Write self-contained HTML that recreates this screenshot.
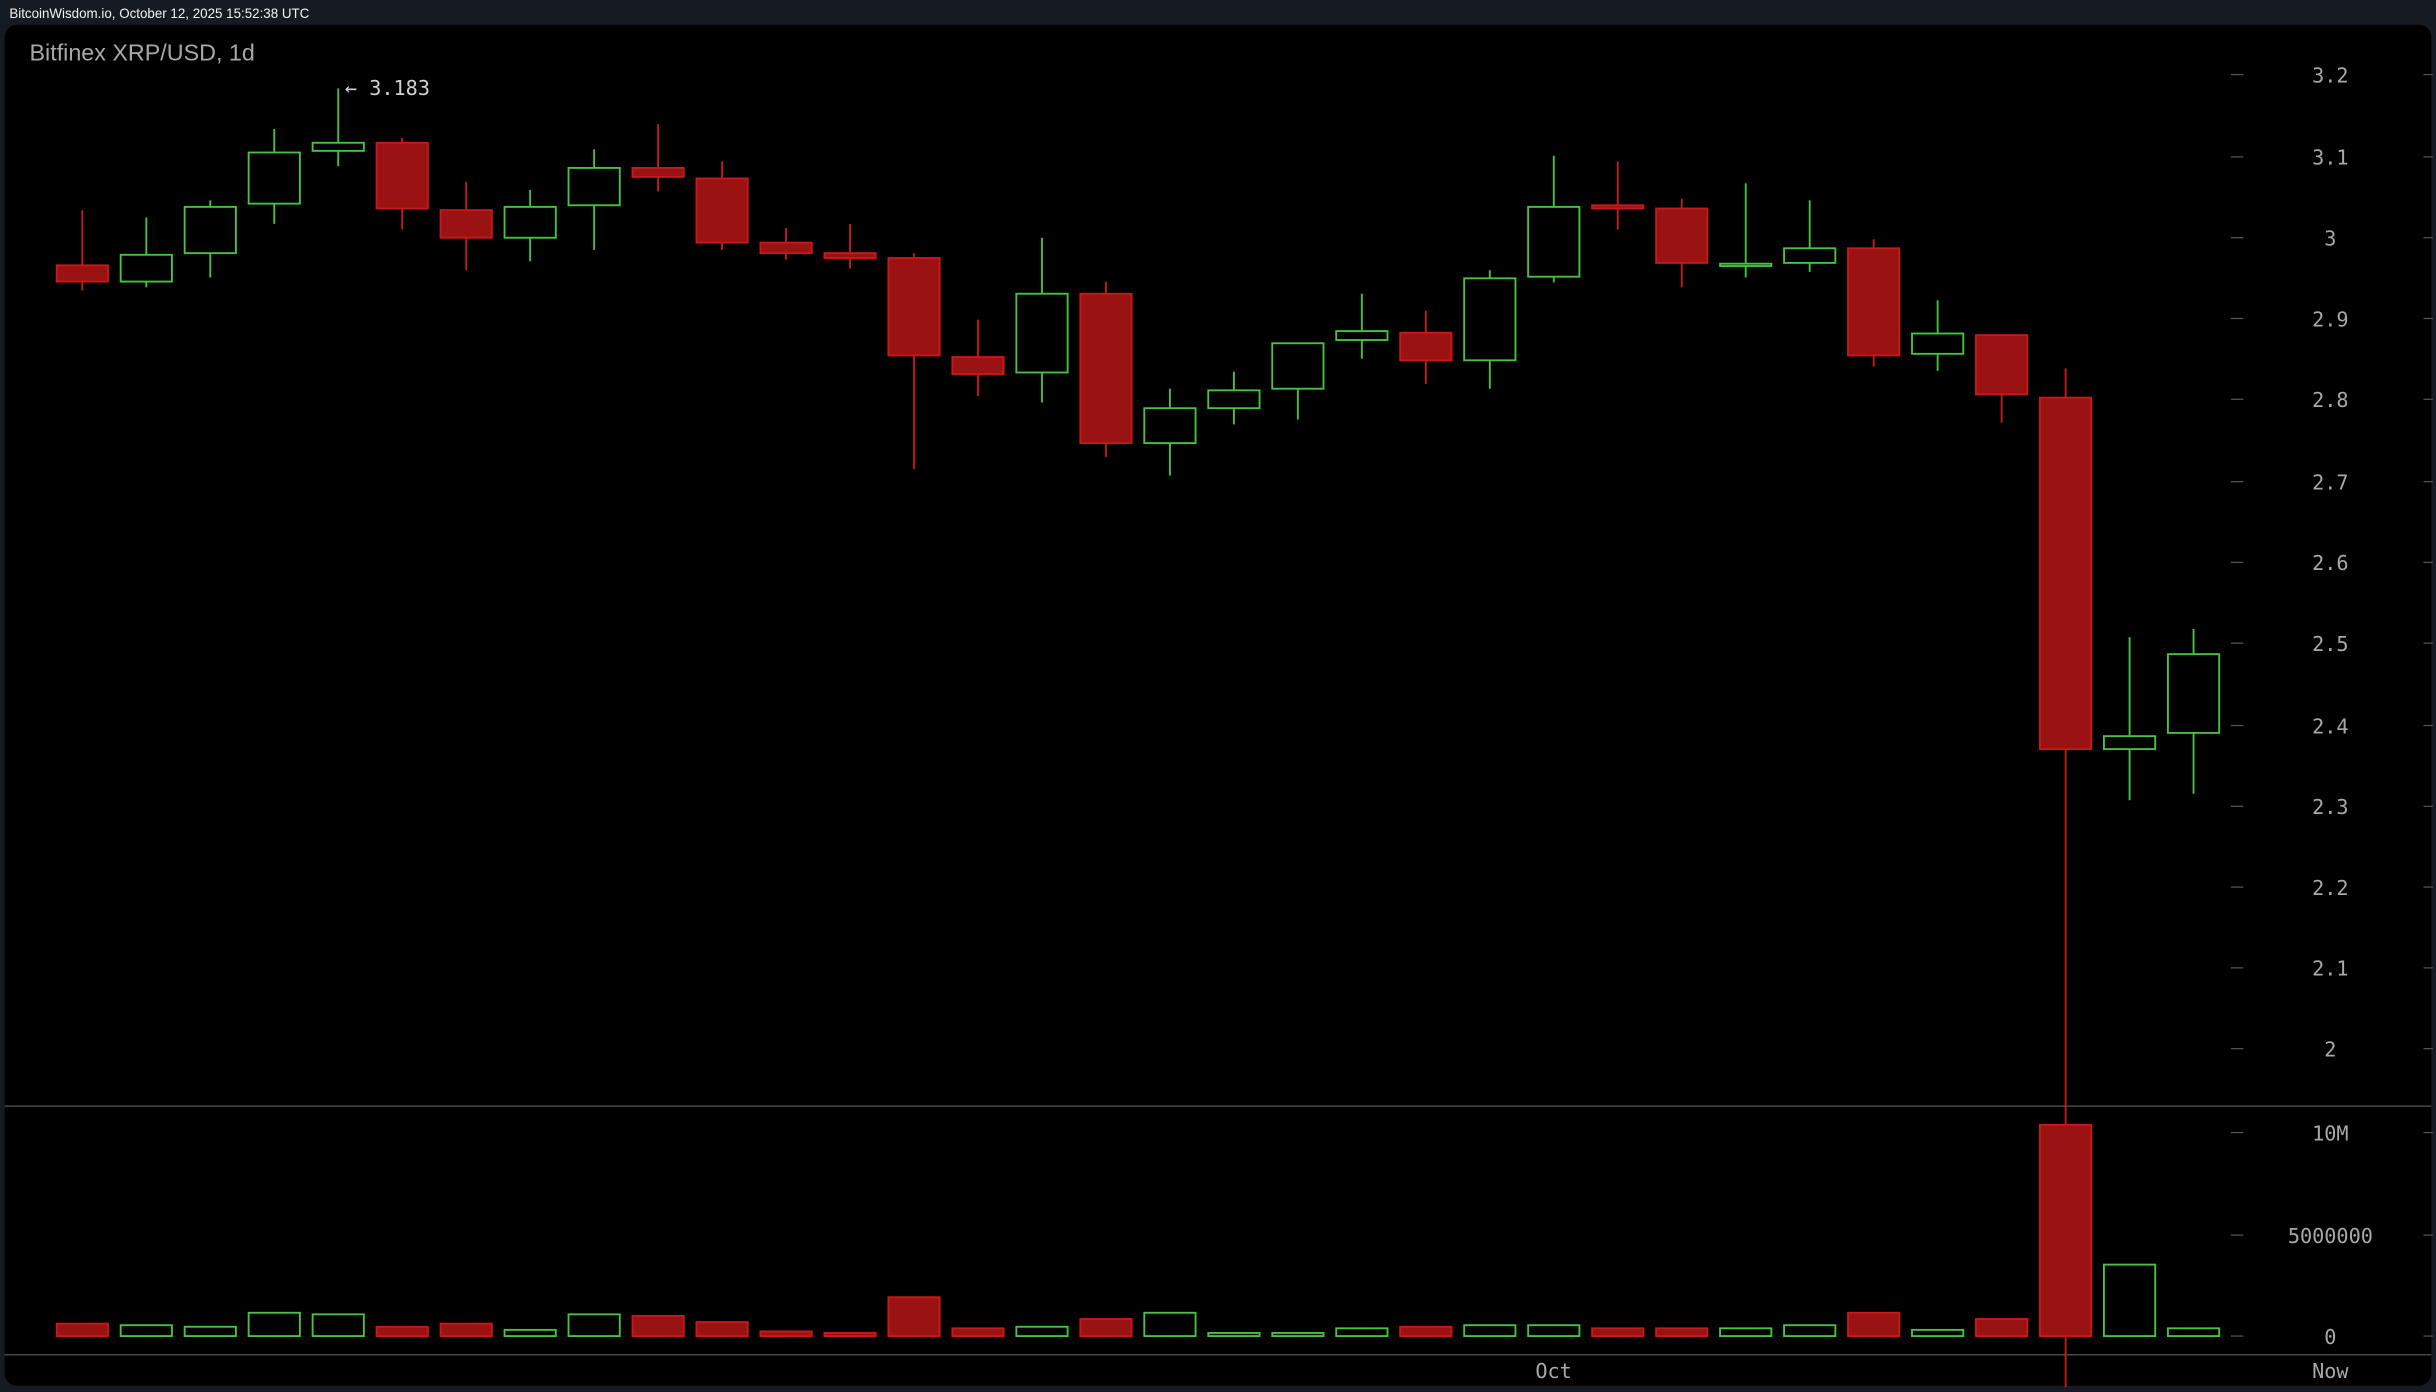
<!DOCTYPE html>
<html><head><meta charset="utf-8"><style>
html,body{margin:0;padding:0;background:#161a22;}
svg{display:block}
</style></head><body>
<svg id="s" width="2436" height="1392" viewBox="0 0 1568 896" xmlns="http://www.w3.org/2000/svg">
<rect x="0" y="0" width="1568" height="896" fill="#161a22"/>
<text x="6" y="11.5" font-family="Liberation Sans, sans-serif" font-size="8.6" fill="#f2f2f2">BitcoinWisdom.io, October 12, 2025 15:52:38 UTC</text>
<rect x="3" y="16" width="1562" height="876" rx="8" fill="#000"/>
<text x="19" y="39" font-family="Liberation Sans, sans-serif" font-size="15" fill="#a8a8a8">Bitfinex XRP/USD, 1d</text>
<text x="222" y="61" font-family="DejaVu Sans Mono, Liberation Mono, monospace" font-size="13" fill="#d0d0d0">← 3.183</text>
<line x1="3" y1="712" x2="1565" y2="712" stroke="#555" stroke-width="0.8"/>
<line x1="3" y1="872" x2="1565" y2="872" stroke="#555" stroke-width="0.8"/>
<g font-family="DejaVu Sans Mono, Liberation Mono, monospace" font-size="13" fill="#a8a8a8" text-anchor="middle">
<text x="1500" y="53">3.2</text><text x="1500" y="106">3.1</text><text x="1500" y="158">3</text>
<text x="1500" y="210">2.9</text><text x="1500" y="262">2.8</text><text x="1500" y="315">2.7</text>
<text x="1500" y="367">2.6</text><text x="1500" y="419">2.5</text><text x="1500" y="472">2.4</text>
<text x="1500" y="524">2.3</text><text x="1500" y="576">2.2</text><text x="1500" y="628">2.1</text>
<text x="1500" y="680">2</text>
<text x="1500" y="734">10M</text><text x="1500" y="800">5000000</text><text x="1500" y="865">0</text>
<text x="1000" y="887">Oct</text><text x="1500" y="887">Now</text>
</g>
<g id="ticks" stroke="#555" stroke-width="0.8"></g>
<g id="c"></g>
</svg>
<script>
var NS="http://www.w3.org/2000/svg";
function el(p,t,a){var e=document.createElementNS(NS,t);for(var k in a)e.setAttribute(k,a[k]);p.appendChild(e);return e;}
var tk=document.getElementById('ticks');
[48,101,153,205,257,310,362,414,467,519,571,623,675,729,795,860].forEach(function(y){
 el(tk,'line',{x1:1436,y1:y,x2:1444,y2:y});el(tk,'line',{x1:1560,y1:y,x2:1566,y2:y});});
// o,c,h,l,vol(top y display)
var d=[[2.965,2.945,3.033,2.934,852],[2.945,2.978,3.024,2.938,853],[2.980,3.037,3.045,2.95,854],[3.041,3.104,3.133,3.016,845],
[3.106,3.116,3.183,3.087,846],[3.116,3.035,3.122,3.009,854],[3.033,2.999,3.068,2.959,852],[2.999,3.037,3.058,2.97,856],
[3.039,3.085,3.108,2.984,846],[3.085,3.074,3.139,3.056,847],[3.072,2.993,3.093,2.984,851],[2.993,2.980,3.011,2.972,857],
[2.980,2.974,3.016,2.961,858],[2.974,2.854,2.98,2.714,835],[2.852,2.831,2.898,2.804,855],[2.833,2.930,2.999,2.796,854],
[2.930,2.746,2.945,2.729,849],[2.746,2.789,2.813,2.706,845],[2.789,2.811,2.834,2.769,858],[2.813,2.869,2.869,2.775,858],
[2.873,2.884,2.930,2.85,855],[2.882,2.848,2.909,2.819,854],[2.848,2.949,2.959,2.813,853],[2.951,3.037,3.100,2.944,853],
[3.039,3.035,3.093,3.009,855],[3.035,2.968,3.047,2.938,855],[2.966,2.967,3.066,2.95,855],[2.968,2.986,3.045,2.957,853],
[2.986,2.854,2.997,2.84,845],[2.856,2.881,2.922,2.835,856],[2.879,2.806,2.879,2.771,849],[2.802,2.369,2.838,-1,724],
[2.369,2.385,2.507,2.306,814],[2.389,2.486,2.517,2.314,855]];
function Y(p){return 48+(3.2-p)*522.5;}
var g=document.getElementById('c');
d.forEach(function(c,i){
 var x=53+i*41.18, up=c[1]>=c[0];
 var st=up?'#46c43f':'#c8191a', fill=up?'#000':'#9a1212';
 var yl=c[3]<0?893:Y(c[3]);
 el(g,'line',{x1:x,y1:Y(c[2]),x2:x,y2:yl,stroke:st,'stroke-width':1.2});
 var t=Y(Math.max(c[0],c[1])),b=Y(Math.min(c[0],c[1]));if(b-t<1.5)b=t+1.5;
 el(g,'rect',{x:x-16.5,y:t,width:33,height:b-t,fill:fill,stroke:st,'stroke-width':1.2});
 el(g,'rect',{x:x-16.5,y:c[4],width:33,height:860-c[4],fill:fill,stroke:st,'stroke-width':1.2});
});
</script>
</body></html>
